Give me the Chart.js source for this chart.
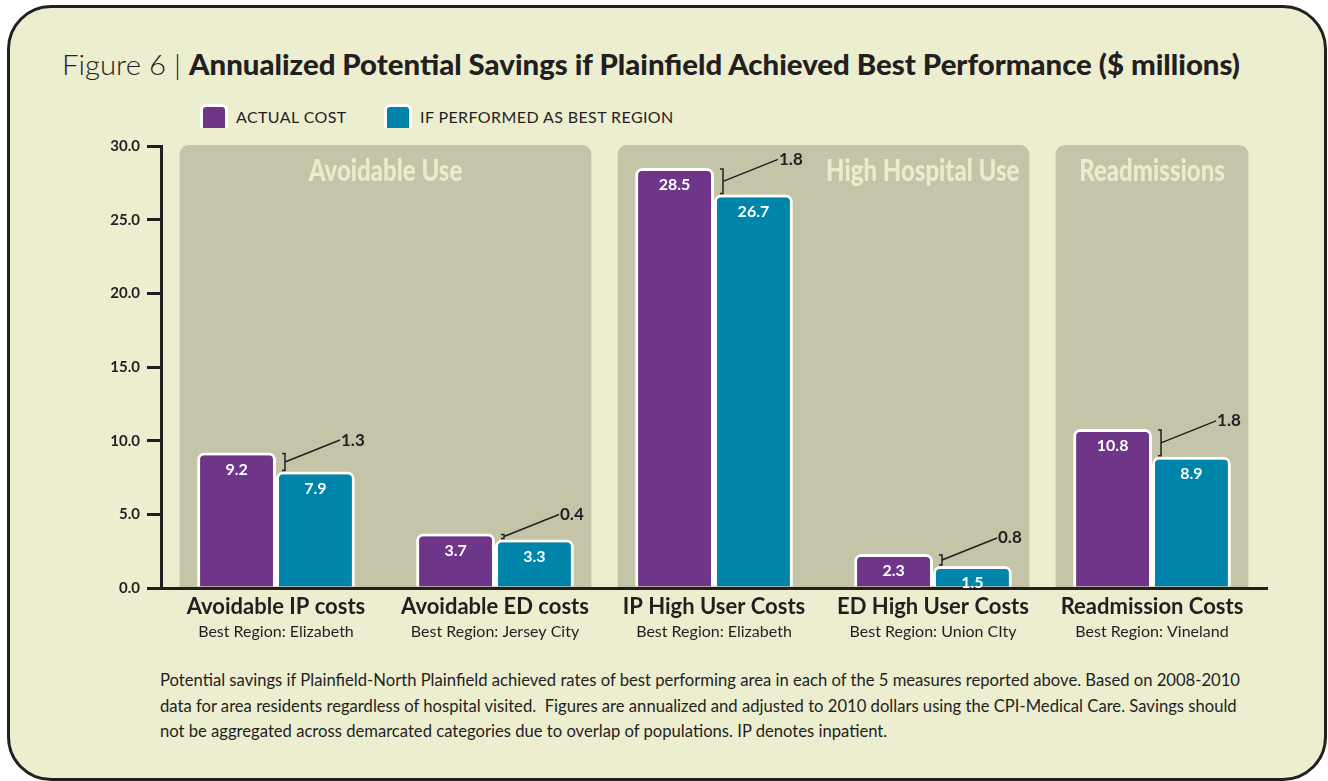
<!DOCTYPE html>
<html>
<head>
<meta charset="utf-8">
<script src="https://cdn.jsdelivr.net/npm/chart.js@4.4.1/dist/chart.umd.min.js"></script>
<style>
  html, body { margin: 0; padding: 0; background: #fff; }
  body { width: 1328px; height: 781px; position: relative; overflow: hidden; color: #231F20; font-family: Lato, 'Open Sans', sans-serif; }
  .frame { position: absolute; left: 7px; top: 5px; width: 1314px; height: 770px; border: 3px solid #231F20; border-radius: 44px; background: #EDEDD0; }
  .title { position: absolute; left: 62px; top: 47px; font-family: Lato, sans-serif; font-size: 28px; line-height: 34px; white-space: nowrap; }
  .title .fig { font-weight: 300; }
  .title b { font-weight: 900; }
  .legend { position: absolute; top: 104px; left: 0; height: 24px; }
  .legend .item { position: absolute; top: 0; display: flex; align-items: center; white-space: nowrap; }
  .legend .box { width: 22px; height: 21px; border: 3px solid #fff; border-bottom: 0; border-radius: 6px 6px 0 0; }
  .legend .txt { margin-left: 8px; font-size: 16px; letter-spacing: 0.4px; }
  .chart-wrap { position: absolute; left: 0; top: 130px; width: 1328px; height: 520px; }
  .note { position: absolute; left: 160px; top: 667px; font-family: Lato, sans-serif; font-size: 17px; line-height: 25.5px; white-space: nowrap; }
</style>
</head>
<body>
<div class="frame"></div>
<div class="title" id="title"><span class="fig">Figure 6 | </span><b>Annualized Potential Savings if Plainfield Achieved Best Performance ($ millions)</b></div>
<div class="legend" id="legend"></div>
<div class="chart-wrap"><canvas id="savingsChart" width="1328" height="520"></canvas></div>
<div class="note" id="note">
  Potential savings if Plainfield-North Plainfield achieved rates of best performing area in each of the 5 measures reported above. Based on 2008-2010<br>
  data for area residents regardless of hospital visited.&nbsp; Figures are annualized and adjusted to 2010 dollars using the CPI-Medical Care. Savings should<br>
  not be aggregated across demarcated categories due to overlap of populations. IP denotes inpatient.
</div>

<script>
const categories = ['Avoidable IP costs', 'Avoidable ED costs', 'IP High User Costs', 'ED High User Costs', 'Readmission Costs'];
const bestRegions = ['Elizabeth', 'Jersey City', 'Elizabeth', 'Union CIty', 'Vineland'];
const seriesNames = ['ACTUAL COST', 'IF PERFORMED AS BEST REGION'];
const actualCost = [9.2, 3.7, 28.5, 2.3, 10.8];
const bestRegionCost = [7.9, 3.3, 26.7, 1.5, 8.9];
const savings = [1.3, 0.4, 1.8, 0.8, 1.8];
const groupNames = ['Avoidable Use', 'High Hospital Use', 'Readmissions'];
const groupFirst = [0, 2, 4];
const groupLast = [1, 3, 4];
const yMin = 0;
const yMax = 30;
const yStep = 5;

const PURPLE = '#6F3589';
const TEAL = '#0085AA';
const DARK = '#231F20';
const PANEL = '#C4C4A9';
const PANEL_TEXT = '#ECEBCC';
const CONDENSE = 0.8;

// squeeze a text block horizontally to mimic the condensed typeface
function fitWidth(el, target) {
  const w = el.getBoundingClientRect().width;
  el.style.transformOrigin = 'left top';
  el.style.transform = `scaleX(${target / w})`;
}
fitWidth(document.getElementById('title'), 1178);
fitWidth(document.getElementById('note'), 1080);

// legend (html)
const legendEl = document.getElementById('legend');
const legendX = [200, 384];
[PURPLE, TEAL].forEach((color, i) => {
  const item = document.createElement('div');
  item.className = 'item';
  item.style.left = legendX[i] + 'px';
  item.innerHTML = `<div class="box" style="background:${color}"></div><div class="txt">${seriesNames[i]}</div>`;
  legendEl.appendChild(item);
});

// grey group panels behind the bars
const panelPlugin = {
  id: 'panels',
  beforeDraw(chart) {
    const { ctx, scales } = chart;
    const xs = scales.x, ys = scales.y;
    const top = ys.getPixelForValue(yMax) - 1;
    const bottom = ys.getPixelForValue(yMin);
    ctx.save();
    groupNames.forEach((name, g) => {
      const x0 = xs.getPixelForValue(groupFirst[g] - 0.44);
      const x1 = xs.getPixelForValue(groupLast[g] + 0.44);
      ctx.fillStyle = PANEL;
      ctx.beginPath();
      ctx.roundRect(x0, top, x1 - x0, bottom - top, [9, 9, 0, 0]);
      ctx.fill();

      ctx.fillStyle = PANEL_TEXT;
      ctx.font = '900 30px Lato, sans-serif';
      ctx.textBaseline = 'alphabetic';
      const w = ctx.measureText(name).width * CONDENSE;
      const tx = g === 1 ? x1 - 10 - w : (x0 + x1) / 2 - w / 2;
      ctx.save();
      ctx.translate(tx, top + 36);
      ctx.scale(CONDENSE, 1);
      ctx.textAlign = 'left';
      ctx.fillText(name, 0, 0);
      ctx.restore();
    });
    ctx.restore();
  }
};

// values inside bars + savings brackets
const labelPlugin = {
  id: 'barLabels',
  afterDatasetsDraw(chart) {
    const { ctx } = chart;
    const actualBars = chart.getDatasetMeta(0).data;
    const bestBars = chart.getDatasetMeta(1).data;
    ctx.save();
    ctx.font = 'bold 16px Lato, sans-serif';
    ctx.textAlign = 'center';
    ctx.textBaseline = 'middle';
    ctx.fillStyle = '#fff';
    actualBars.forEach((bar, i) => ctx.fillText(actualCost[i].toFixed(1), bar.x, bar.y + 17));
    bestBars.forEach((bar, i) => ctx.fillText(bestRegionCost[i].toFixed(1), bar.x, bar.y + 17));

    ctx.strokeStyle = DARK;
    ctx.fillStyle = DARK;
    ctx.lineWidth = 1.5;
    ctx.textAlign = 'left';
    ctx.font = 'bold 17px Lato, sans-serif';
    actualBars.forEach((bar, i) => {
      const other = bestBars[i];
      const bx = bar.x + bar.width / 2 + 9;
      const y0 = bar.y + 1;
      const y1 = other.y - 1;
      const mid = (y0 + y1) / 2;
      ctx.beginPath();
      ctx.moveTo(bx - 3, y0);
      ctx.lineTo(bx, y0);
      ctx.lineTo(bx, y1);
      ctx.lineTo(bx - 3, y1);
      ctx.moveTo(bx, mid);
      ctx.lineTo(bx + 55, mid - 22);
      ctx.stroke();
      ctx.fillText(savings[i].toFixed(1), bx + 56, mid - 22);
    });
    ctx.restore();
  }
};

const categoryTicks = scale => { scale.ticks = categories.map((c, i) => ({ value: i })); };

const ctx = document.getElementById('savingsChart').getContext('2d');
new Chart(ctx, {
  type: 'bar',
  data: {
    datasets: [
      {
        label: seriesNames[0],
        data: actualCost.map((v, i) => ({ x: i, y: v })),
        backgroundColor: PURPLE,
        borderColor: '#fff',
        borderWidth: 3,
        borderSkipped: 'start',
        borderRadius: { topLeft: 7, topRight: 7, bottomLeft: 0, bottomRight: 0 }
      },
      {
        label: seriesNames[1],
        data: bestRegionCost.map((v, i) => ({ x: i, y: v })),
        backgroundColor: TEAL,
        borderColor: '#fff',
        borderWidth: 3,
        borderSkipped: 'start',
        borderRadius: { topLeft: 7, topRight: 7, bottomLeft: 0, bottomRight: 0 }
      }
    ]
  },
  options: {
    responsive: false,
    animation: false,
    layout: { padding: { left: 0, right: 61, top: 13, bottom: 0 } },
    datasets: { bar: { categoryPercentage: 0.72, barPercentage: 1.0 } },
    plugins: {
      legend: { display: false },
      title: { display: false },
      tooltip: { enabled: false }
    },
    scales: {
      x: {
        type: 'linear',
        position: 'bottom',
        offset: false,
        min: -0.525,
        max: 4.525,
        afterBuildTicks: categoryTicks,
        afterFit: s => { s.height = 32; },
        grid: { display: false, drawTicks: false },
        border: { display: true, color: DARK, width: 3 },
        ticks: {
          callback: v => categories[v],
          font: { family: 'Lato', size: 22, weight: 'bold' },
          color: DARK,
          padding: 6,
          maxRotation: 0,
          autoSkip: false
        }
      },
      x2: {
        type: 'linear',
        position: 'bottom',
        offset: false,
        min: -0.525,
        max: 4.525,
        afterBuildTicks: categoryTicks,
        afterFit: s => { s.height = 30; },
        grid: { display: false, drawTicks: false },
        border: { display: false },
        ticks: {
          callback: v => 'Best Region: ' + bestRegions[v],
          font: { family: 'Lato', size: 16 },
          color: DARK,
          padding: 2,
          maxRotation: 0,
          autoSkip: false
        }
      },
      y: {
        min: yMin,
        max: yMax,
        afterFit: s => { s.width = 161; },
        ticks: {
          stepSize: yStep,
          callback: v => v.toFixed(1),
          font: { family: 'Lato', size: 15, weight: 'bold' },
          color: DARK,
          padding: 7
        },
        grid: { drawOnChartArea: false, drawTicks: true, tickLength: 14, lineWidth: 3, color: DARK },
        border: { display: true, color: DARK, width: 3 }
      }
    }
  },
  plugins: [panelPlugin, labelPlugin]
});
</script>
</body>
</html>
